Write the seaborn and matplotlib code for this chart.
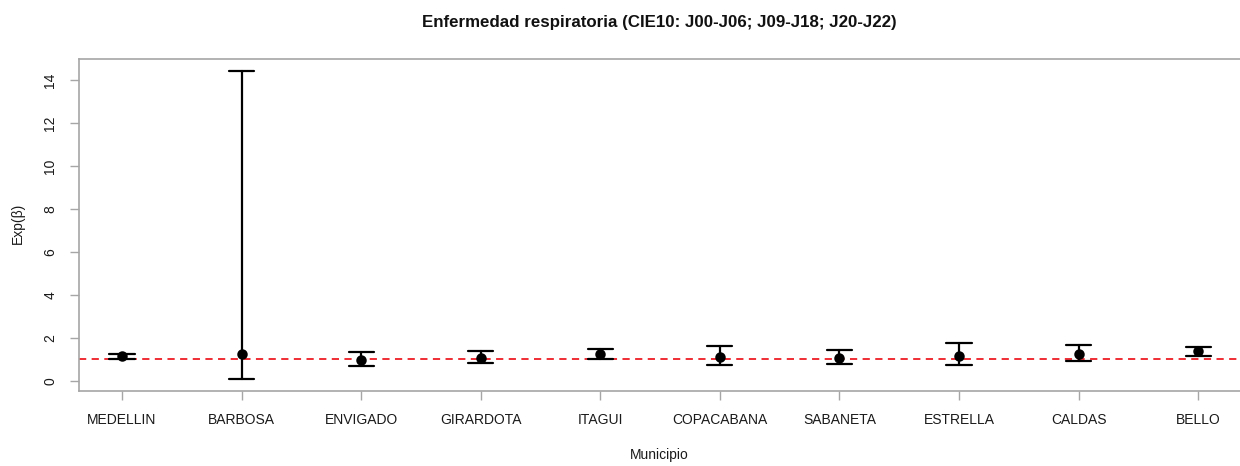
"""
Forest-style plot of Exp(beta) per municipio, respiratory disease.
"""
import seaborn as sns
import pandas as pd
import matplotlib.pyplot as plt

# Values.
municipios = ["MEDELLIN", "BARBOSA", "ENVIGADO", "GIRARDOTA", "ITAGUI",
              "COPACABANA", "SABANETA", "ESTRELLA", "CALDAS", "BELLO"]
estimate = [1.16, 1.23, 0.95, 1.07, 1.26, 1.11, 1.06, 1.17, 1.26, 1.37]
lower = [1.03, 0.10, 0.69, 0.81, 1.01, 0.73, 0.78, 0.75, 0.92, 1.17]
upper = [1.23, 14.41, 1.34, 1.40, 1.50, 1.62, 1.42, 1.74, 1.65, 1.56]
yticks = [0, 2, 4, 6, 8, 10, 12, 14]

title = "Enfermedad respiratoria (CIE10: J00-J06; J09-J18; J20-J22)"


def build_frame():
    # Three rows per municipio: median gives the estimate, full range the CI.
    rows = []
    for m, lo, est, hi in zip(municipios, lower, estimate, upper):
        for v in (lo, est, hi):
            rows.append({"Municipio": m, "value": v})
    return pd.DataFrame(rows)


def gen_plot():
    df = build_frame()

    sns.set_style("white")
    plt.rcParams["font.family"] = ["Liberation Sans", "DejaVu Sans"]

    fig = plt.figure(figsize=(12.4, 4.66), dpi=100)
    ax = fig.add_axes([79 / 1240, 75.3 / 466, 1161 / 1240, 331.7 / 466])

    sns.pointplot(data=df, x="Municipio", y="value", order=municipios,
                  estimator="median", errorbar=("pi", 100), color="black",
                  linestyle="none", markers="o", markersize=5.5,
                  capsize=0.21, err_kws={"linewidth": 1.6}, ax=ax)

    # Reference line at 1.
    ax.axhline(1, color="#ee1c25", linestyle=(0, (4, 3)), linewidth=1.3,
               zorder=0)

    ax.set_xlim(-0.36, 9.35)
    ax.set_ylim(-0.46, 14.97)
    ax.set_yticks(yticks)
    ax.set_yticklabels([str(t) for t in yticks], rotation=90, va="center")

    for side in ["left", "top", "bottom"]:
        ax.spines[side].set_color("#a6a6a6")
        ax.spines[side].set_linewidth(1.2)
    ax.spines["right"].set_visible(False)

    # seaborn's white style hides the ticks, R draws them.
    ax.tick_params(axis="both", bottom=True, left=True, length=6.5, width=1,
                   color="#a6a6a6", labelsize=10, labelcolor="#1a1a1a")
    ax.tick_params(axis="x", pad=9.5)
    ax.tick_params(axis="y", pad=9)

    ax.set_xlabel("Municipio", fontsize=10, color="#1a1a1a")
    ax.xaxis.label.set_va("center")
    ax.xaxis.set_label_coords(0.5, -0.194)
    ax.set_ylabel("Exp(\u03b2)", fontsize=10, color="#1a1a1a")
    ax.yaxis.label.set_va("center")
    ax.yaxis.set_label_coords(-0.053, 0.503)

    fig.text(659.5 / 1240, 1 - 23 / 466, title, ha="center", va="center",
             fontsize=12.2, fontweight="bold", color="#111111")

    plt.savefig("out.png", dpi=100)


if __name__ == "__main__":
    gen_plot()
